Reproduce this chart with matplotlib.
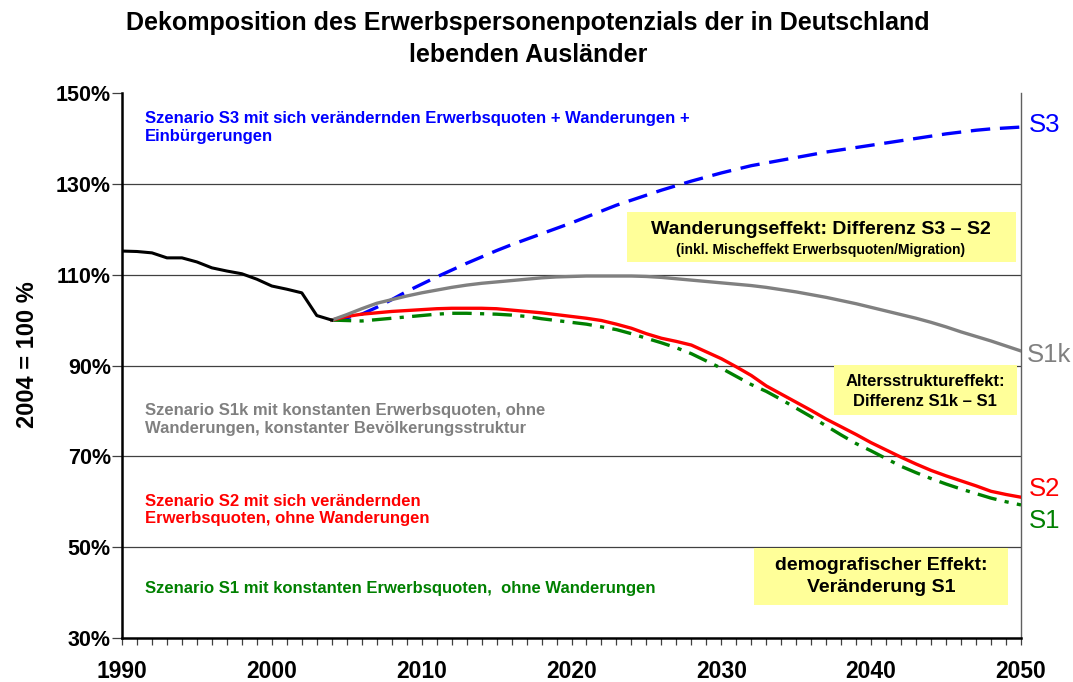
import matplotlib
matplotlib.use("Agg")
import matplotlib.pyplot as plt
from matplotlib.ticker import MultipleLocator, FixedLocator, FuncFormatter
import numpy as np

plt.rcParams['font.family'] = ['Liberation Sans', 'DejaVu Sans']
plt.rcParams['lines.scale_dashes'] = False

# ---- data ----
years_hist = list(range(1990, 2005))
hist = [115.2, 115.1, 114.8, 113.7, 113.7, 112.8, 111.5, 110.8, 110.2, 109.0,
        107.5, 106.8, 106.0, 101.0, 100.0]

years_proj = list(range(2004, 2051))
s3 = [100.0, 100.5, 101.3, 102.8, 104.5, 106.3, 107.9, 109.5, 111.0, 112.5,
      113.9, 115.3, 116.6, 117.8, 119.0, 120.2, 121.4, 122.7, 124.0, 125.3,
      126.4, 127.5, 128.6, 129.6, 130.6, 131.5, 132.4, 133.2, 134.0, 134.6,
      135.2, 135.8, 136.4, 137.0, 137.5, 138.0, 138.5, 139.0, 139.5, 140.0,
      140.5, 141.0, 141.4, 141.8, 142.1, 142.3, 142.5]
s1k = [100.0, 101.2, 102.5, 103.7, 104.5, 105.3, 106.0, 106.6, 107.2, 107.7,
       108.1, 108.4, 108.7, 109.0, 109.3, 109.5, 109.6, 109.7, 109.7, 109.7,
       109.7, 109.6, 109.4, 109.1, 108.8, 108.5, 108.2, 107.9, 107.6, 107.2,
       106.7, 106.2, 105.6, 105.0, 104.3, 103.6, 102.8, 102.0, 101.2, 100.4,
       99.5, 98.5, 97.4, 96.4, 95.4, 94.3, 93.2]
s2 = [100.0, 100.8, 101.3, 101.6, 101.9, 102.1, 102.3, 102.5, 102.6, 102.6,
      102.6, 102.5, 102.2, 101.9, 101.6, 101.2, 100.8, 100.4, 99.9, 99.1,
      98.2, 97.0, 96.0, 95.3, 94.5, 93.0, 91.5, 89.7, 87.8, 85.5,
      83.7, 81.9, 80.1, 78.2, 76.5, 74.8, 73.0, 71.4, 69.8, 68.3,
      66.9, 65.7, 64.6, 63.5, 62.3, 61.6, 61.0]
s1 = [100.0, 99.9, 99.8, 100.1, 100.4, 100.7, 101.0, 101.3, 101.5, 101.5,
      101.4, 101.3, 101.1, 100.8, 100.3, 99.9, 99.5, 99.1, 98.5, 97.9,
      97.0, 96.0, 95.0, 93.9, 92.6, 91.0, 89.4, 87.6, 85.8, 84.3,
      82.5, 80.6, 78.7, 76.7, 74.7, 72.8, 71.2, 69.5, 67.8, 66.4,
      65.1, 63.9, 62.8, 61.8, 60.8, 60.0, 59.3]

y_ticks = [30, 50, 70, 90, 110, 130, 150]

title = "Dekomposition des Erwerbspersonenpotenzials der in Deutschland\nlebenden Ausländer"
ylabel = "2004 = 100 %"

blue = "#0000FF"
red = "#FF0000"
green = "#008000"
gray = "#808080"
yellow = "#FFFF99"

fig = plt.figure(figsize=(10.73, 6.82), dpi=100)
ax = fig.add_axes([122/1073, 44/682, 899/1073, 545/682])

ax.set_xlim(1990, 2050)
ax.set_ylim(30, 150)

for yv in y_ticks[1:-1]:
    ax.axhline(yv, color="#404040", lw=0.9, zorder=1)

ax.plot(years_hist, hist, color="black", lw=2.2, zorder=5)
ax.plot(years_proj, s3, color=blue, lw=2.4, dashes=(14, 7), zorder=3)
ax.plot(years_proj, s1, color=green, lw=2.4, dashes=(14, 6, 3, 6), zorder=3)
ax.plot(years_proj, s2, color=red, lw=2.4, zorder=4)
ax.plot(years_proj, s1k, color=gray, lw=2.4, zorder=4)

# spines
ax.spines['top'].set_visible(False)
ax.spines['right'].set_color("#606060")
ax.spines['right'].set_linewidth(1.0)
ax.spines['left'].set_linewidth(1.8)
ax.spines['bottom'].set_linewidth(1.8)

ax.xaxis.set_major_locator(MultipleLocator(10))
ax.xaxis.set_minor_locator(MultipleLocator(1))
ax.yaxis.set_major_locator(FixedLocator(y_ticks))
ax.yaxis.set_major_formatter(FuncFormatter(lambda v, p: f"{int(v)}%"))
ax.tick_params(axis='x', which='both', direction='out', length=5, width=0.9,
               color="#404040", pad=11, labelsize=16.5)
ax.tick_params(axis='y', which='major', direction='out', length=7, width=0.9,
               color="#404040", pad=1, labelsize=15.5)
for lab in ax.get_xticklabels() + ax.get_yticklabels():
    lab.set_fontweight('bold')

fig.text(28/1073, 1 - 355/682, ylabel, rotation=90, ha='center', va='center',
         fontsize=17, fontweight='bold')
fig.text(528/1073, 1 - 39/682, title, ha='center', va='center',
         fontsize=18, fontweight='bold', linespacing=1.42)

def px(x, y):
    return (x / 1073, 1 - y / 682)

# scenario texts
fs = 12
fig.text(*px(145, 127), "Szenario S3 mit sich verändernden Erwerbsquoten + Wanderungen +\nEinbürgerungen",
         color=blue, fontsize=fs, fontweight='bold', ha='left', va='center', linespacing=1.25)
fig.text(*px(145, 420), "Szenario S1k mit konstanten Erwerbsquoten, ohne\nWanderungen, konstanter Bevölkerungsstruktur",
         color=gray, fontsize=fs, fontweight='bold', ha='left', va='center', linespacing=1.25)
fig.text(*px(145, 510), "Szenario S2 mit sich verändernden\nErwerbsquoten, ohne Wanderungen",
         color=red, fontsize=fs, fontweight='bold', ha='left', va='center', linespacing=1.25)
fig.text(*px(145, 588), "Szenario S1 mit konstanten Erwerbsquoten,  ohne Wanderungen",
         color=green, fontsize=fs, fontweight='bold', ha='left', va='center')

# yellow boxes
def ybox(x0, y0, x1, y1):
    r = plt.Rectangle((x0 / 1073, 1 - y1 / 682), (x1 - x0) / 1073, (y1 - y0) / 682,
                      transform=fig.transFigure, facecolor=yellow, edgecolor='none', zorder=6)
    fig.add_artist(r)

ybox(627, 212, 1016, 262)
fig.text(*px(821, 230), "Wanderungseffekt: Differenz S3 – S2", fontsize=14,
         fontweight='bold', ha='center', va='center', zorder=7)
fig.text(*px(821, 250), "(inkl. Mischeffekt Erwerbsquoten/Migration)", fontsize=10,
         fontweight='bold', ha='center', va='center', zorder=7)

ybox(834, 365, 1017, 415)
fig.text(*px(925, 382), "Altersstruktureffekt:", fontsize=12,
         fontweight='bold', ha='center', va='center', zorder=7)
fig.text(*px(925, 402), "Differenz S1k – S1", fontsize=12,
         fontweight='bold', ha='center', va='center', zorder=7)

ybox(754, 548, 1008, 605)
fig.text(*px(881, 566), "demografischer Effekt:", fontsize=14,
         fontweight='bold', ha='center', va='center', zorder=7)
fig.text(*px(881, 587), "Veränderung S1", fontsize=14,
         fontweight='bold', ha='center', va='center', zorder=7)

# right-hand labels
fig.text(*px(1029, 125), "S3", color=blue, fontsize=18.5, ha='left', va='center')
fig.text(*px(1027, 355), "S1k", color=gray, fontsize=18.5, ha='left', va='center')
fig.text(*px(1029, 489), "S2", color=red, fontsize=18.5, ha='left', va='center')
fig.text(*px(1029, 521), "S1", color=green, fontsize=18.5, ha='left', va='center')

fig.savefig("out.png", dpi=100)
